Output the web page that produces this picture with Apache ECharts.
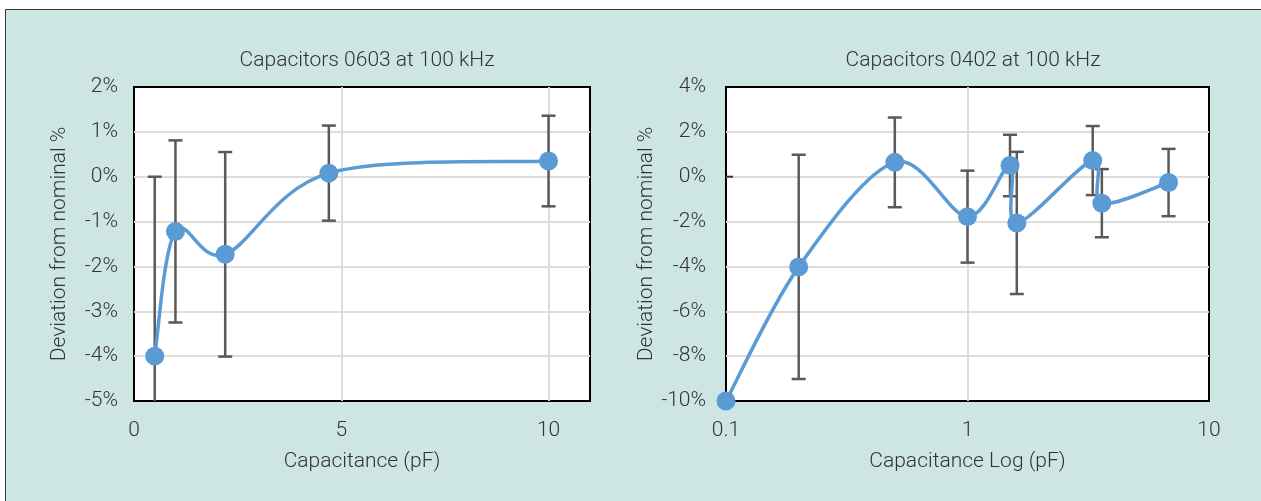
<!DOCTYPE html>
<html>
<head>
<meta charset="utf-8">
<script src="https://cdn.jsdelivr.net/npm/echarts@6/dist/echarts.min.js"></script>
<style>
  html, body { margin: 0; padding: 0; background: #ffffff; }
  #bg { position: absolute; left: 5px; top: 9px; width: 1256px; height: 492px;
        background: #cde6e4; border-top: 1px solid #3a3a3a; border-left: 1px solid #3a3a3a; box-sizing: border-box; }
  #chart { position: absolute; left: 0; top: 0; width: 1261px; height: 501px; }
</style>
</head>
<body>
<div id="bg"></div>
<div id="chart"></div>
<script>
// ---- Left chart: Capacitors 0603 at 100 kHz ----
const capA = [0.5, 1, 2.2, 4.7, 10];          // pF
const devA = [-4.0, -1.22, -1.73, 0.08, 0.35]; // % deviation
const errA = [4.0, 2.03, 2.28, 1.06, 1.01];    // ± error
const yTicksA = { min: -5, max: 2, interval: 1 };
const xTicksA = { min: 0, max: 11, interval: 5 };

// ---- Right chart: Capacitors 0402 at 100 kHz (log x) ----
const capB = [0.1, 0.2, 0.5, 1.0, 1.5, 1.6, 3.3, 3.6, 6.8];
const devB = [-10.0, -4.02, 0.64, -1.78, 0.5, -2.06, 0.72, -1.18, -0.26];
const errB = [0, 5.0, 2.0, 2.05, 1.37, 3.17, 1.54, 1.52, 1.5];
const yTicksB = { min: -10, max: 4, interval: 2 };
const tickMarkB = [[0.1, 0]]; // small axis tick at 0% on the left edge

const FONT = 'Roboto';
const FS = 21;
const TXT = '#333333';
const BLUE = '#5b9bd5';
const GRID = '#dcdcdc';

function zip3(a, b, c) { return a.map((v, i) => [v, b[i], c[i]]); }
function zip2(a, b) { return a.map((v, i) => [v, b[i]]); }

function renderErr(params, api) {
  const x = api.value(0), y = api.value(1), e = api.value(2);
  if (!e) return null;
  const hi = api.coord([x, y + e]);
  const lo = api.coord([x, y - e]);
  const hw = 7;
  const style = { stroke: '#595959', lineWidth: 2.5 };
  return {
    type: 'group',
    children: [
      { type: 'line', shape: { x1: hi[0], y1: hi[1], x2: lo[0], y2: lo[1] }, style },
      { type: 'line', shape: { x1: hi[0] - hw, y1: hi[1], x2: hi[0] + hw, y2: hi[1] }, style },
      { type: 'line', shape: { x1: lo[0] - hw, y1: lo[1], x2: lo[0] + hw, y2: lo[1] }, style }
    ]
  };
}

function renderTick(params, api) {
  const p = api.coord([api.value(0), api.value(1)]);
  return { type: 'line', shape: { x1: p[0], y1: p[1], x2: p[0] + 7, y2: p[1] },
           style: { stroke: '#333333', lineWidth: 2 } };
}

// Spreadsheet-style smoothed line (Catmull-Rom segments in pixel space)
function makeSmooth(xs, ys) {
  return function (params, api) {
    const i = params.dataIndex;
    if (i >= xs.length - 1) return null;
    const P = k => api.coord([xs[Math.max(0, Math.min(xs.length - 1, k))], ys[Math.max(0, Math.min(xs.length - 1, k))]]);
    const p0 = P(i - 1), p1 = P(i), p2 = P(i + 1), p3 = P(i + 2);
    const t = 1 / 6;
    return {
      type: 'bezierCurve',
      shape: {
        x1: p1[0], y1: p1[1], x2: p2[0], y2: p2[1],
        cpx1: p1[0] + (p2[0] - p0[0]) * t, cpy1: p1[1] + (p2[1] - p0[1]) * t,
        cpx2: p2[0] - (p3[0] - p1[0]) * t, cpy2: p2[1] - (p3[1] - p1[1]) * t
      },
      style: { stroke: BLUE, lineWidth: 3.5, fill: null, lineCap: 'round' }
    };
  };
}

const labelStyle = { color: TXT, fontFamily: FONT, fontSize: FS, fontWeight: 300 };
const nameStyle = { color: TXT, fontFamily: FONT, fontSize: FS, fontWeight: 300 };
const splitL = { show: true, showMinLine: false, showMaxLine: false, lineStyle: { color: GRID, width: 2 } };

const chart = echarts.init(document.getElementById('chart'), null, { renderer: 'canvas' });
chart.setOption({
  backgroundColor: 'transparent',
  animation: false,
  title: [
    { text: 'Capacitors 0603 at 100 kHz', left: 362, top: 45, textAlign: 'center',
      textStyle: { color: TXT, fontFamily: FONT, fontSize: FS, fontWeight: 300 } },
    { text: 'Capacitors 0402 at 100 kHz', left: 968, top: 45, textAlign: 'center',
      textStyle: { color: TXT, fontFamily: FONT, fontSize: FS, fontWeight: 300 } }
  ],
  grid: [
    { left: 134, top: 87, width: 456, height: 314, show: true, backgroundColor: '#ffffff',
      borderColor: '#000000', borderWidth: 2, z: 0 },
    { left: 726, top: 87, width: 483, height: 314, show: true, backgroundColor: '#ffffff',
      borderColor: '#000000', borderWidth: 2, z: 0 }
  ],
  xAxis: [
    { type: 'value', gridIndex: 0, min: xTicksA.min, max: xTicksA.max, interval: xTicksA.interval,
      name: 'Capacitance (pF)', nameLocation: 'middle', nameGap: 50, nameTextStyle: nameStyle,
      axisLine: { show: false }, axisTick: { show: false },
      axisLabel: Object.assign({ margin: 19, showMaxLabel: false }, labelStyle),
      splitLine: splitL },
    { type: 'log', gridIndex: 1, logBase: 10, min: 0.1, max: 10,
      name: 'Capacitance Log (pF)', nameLocation: 'middle', nameGap: 50, nameTextStyle: nameStyle,
      axisLine: { show: false }, axisTick: { show: false },
      axisLabel: Object.assign({ margin: 19, formatter: v => String(+v.toPrecision(3)) }, labelStyle),
      minorSplitLine: { show: false },
      splitLine: splitL }
  ],
  yAxis: [
    { type: 'value', gridIndex: 0, min: yTicksA.min, max: yTicksA.max, interval: yTicksA.interval,
      name: 'Deviation from nominal %', nameLocation: 'middle', nameGap: 64, nameTextStyle: nameStyle,
      axisLine: { show: false }, axisTick: { show: false },
      axisLabel: Object.assign({ margin: 16, formatter: v => v + '%' }, labelStyle),
      splitLine: splitL },
    { type: 'value', gridIndex: 1, min: yTicksB.min, max: yTicksB.max, interval: yTicksB.interval,
      name: 'Deviation from nominal %', nameLocation: 'middle', nameGap: 69, nameTextStyle: nameStyle,
      axisLine: { show: false }, axisTick: { show: false },
      axisLabel: Object.assign({ margin: 20, formatter: v => v + '%' }, labelStyle),
      splitLine: splitL }
  ],
  series: [
    { type: 'custom', xAxisIndex: 0, yAxisIndex: 0, clip: true, z: 2,
      renderItem: renderErr, data: zip3(capA, devA, errA) },
    { type: 'custom', xAxisIndex: 0, yAxisIndex: 0, clip: false, z: 3,
      renderItem: makeSmooth(capA, devA), data: zip2(capA, devA) },
    { type: 'scatter', xAxisIndex: 0, yAxisIndex: 0, clip: false, z: 4,
      symbol: 'circle', symbolSize: 19, itemStyle: { color: BLUE, opacity: 1 },
      data: zip2(capA, devA) },
    { type: 'custom', xAxisIndex: 1, yAxisIndex: 1, clip: false, z: 2,
      renderItem: renderTick, data: tickMarkB },
    { type: 'custom', xAxisIndex: 1, yAxisIndex: 1, clip: true, z: 2,
      renderItem: renderErr, data: zip3(capB, devB, errB) },
    { type: 'custom', xAxisIndex: 1, yAxisIndex: 1, clip: false, z: 3,
      renderItem: makeSmooth(capB, devB), data: zip2(capB, devB) },
    { type: 'scatter', xAxisIndex: 1, yAxisIndex: 1, clip: false, z: 4,
      symbol: 'circle', symbolSize: 19, itemStyle: { color: BLUE, opacity: 1 },
      data: zip2(capB, devB) }
  ]
});
</script>
</body>
</html>
